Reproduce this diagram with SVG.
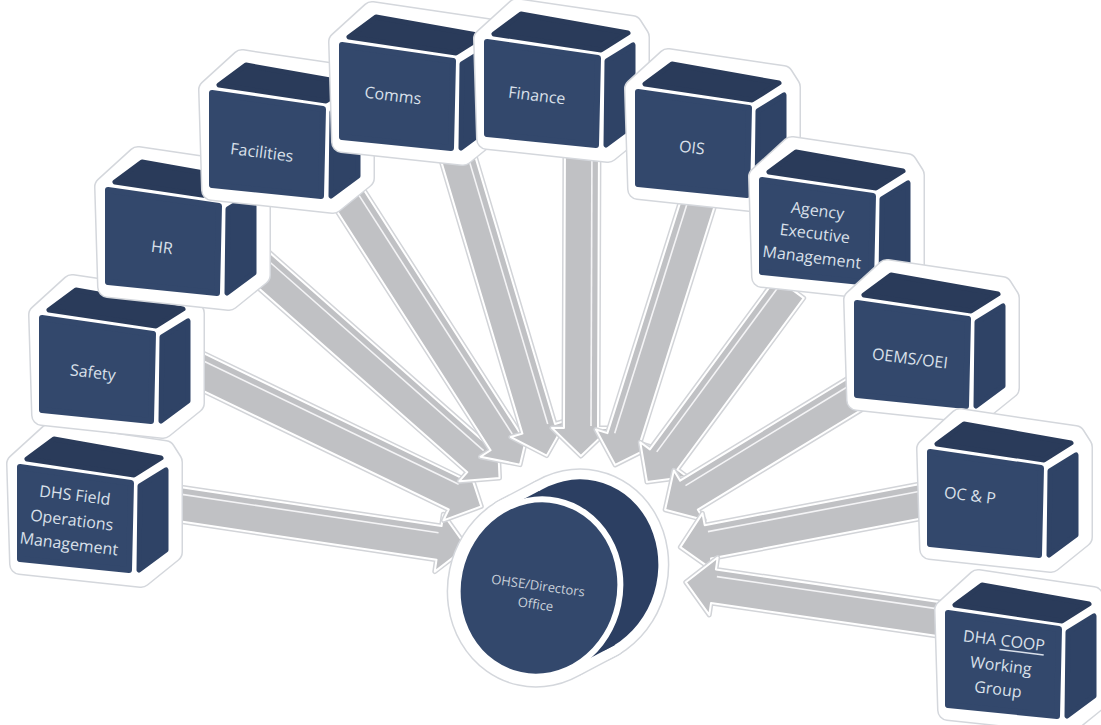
<svg xmlns="http://www.w3.org/2000/svg" xmlns:xlink="http://www.w3.org/1999/xlink" width="1101" height="725" viewBox="0 0 1101 725">
<style>
.sil1{fill:#d4d7dc;stroke:#d4d7dc;stroke-width:22;stroke-linejoin:round}
.sil2{fill:#ffffff;stroke:#ffffff;stroke-width:19;stroke-linejoin:round}
.front{fill:#33486c;stroke:#33486c;stroke-width:6;stroke-linejoin:round}
.top{fill:#2a3b5a;stroke:#2a3b5a;stroke-width:5;stroke-linejoin:round}
.side{fill:#2f4366;stroke:#2f4366;stroke-width:5;stroke-linejoin:round}
.lbl{font-family:"Open Sans","Noto Sans",sans-serif;font-size:16px;fill:#dae0ea;text-anchor:middle;dominant-baseline:central}
.arO{fill:#d2d4d8;stroke:#d2d4d8;stroke-width:5;stroke-linejoin:round}
.arI{fill:#c0c1c4;stroke:#ffffff;stroke-width:2;stroke-linejoin:round}
.hl{fill:none;stroke:#f4f4f6;stroke-width:1.6}
</style>
<defs>
<g id="cube">
<path class="sil1" d="M-3,-3 L30,-33 L145,-16 L152,-5 L152,85 L121,110 L0,97 Z"/>
<path class="sil2" d="M-3,-3 L30,-33 L145,-16 L152,-5 L152,85 L121,110 L0,97 Z"/>
<path class="top" d="M7,-8 L114,8 L141,-9 L34,-28 Z"/>
<path class="side" d="M120,19 L146,3 L146,83 L119,103 Z"/>
<path class="front" d="M0,0 L111,16 L109,103 L0,92 Z"/>
</g>
</defs>
<rect width="1101" height="725" fill="#ffffff"/>
<g id="connectors">
<g transform="translate(172,503) rotate(8.5)"><path class="arO" d="M0,-17 H270 V-29 L298,0 L270,29 V17 H0 Z"/><path class="arI" d="M0,-17 H270 V-29 L298,0 L270,29 V17 H0 Z"/><path class="hl" d="M0,-10 H268"/></g>
<g transform="translate(195,368) rotate(25.8)"><path class="arO" d="M0,-17 H290 V-29 L318,0 L290,29 V17 H0 Z"/><path class="arI" d="M0,-17 H290 V-29 L318,0 L290,29 V17 H0 Z"/><path class="hl" d="M0,-10 H288"/></g>
<g transform="translate(258,265) rotate(41.4)"><path class="arO" d="M0,-17 H294 V-29 L322,0 L294,29 V17 H0 Z"/><path class="arI" d="M0,-17 H294 V-29 L322,0 L294,29 V17 H0 Z"/><path class="hl" d="M0,-10 H292"/></g>
<g transform="translate(345,192) rotate(57.3)"><path class="arO" d="M0,-17 H296 V-29 L324,0 L296,29 V17 H0 Z"/><path class="arI" d="M0,-17 H296 V-29 L324,0 L296,29 V17 H0 Z"/><path class="hl" d="M0,-10 H294"/></g>
<g transform="translate(455,148) rotate(73.4)"><path class="arO" d="M0,-17 H293 V-29 L321,0 L293,29 V17 H0 Z"/><path class="arI" d="M0,-17 H293 V-29 L321,0 L293,29 V17 H0 Z"/><path class="hl" d="M0,-10 H291"/></g>
<g transform="translate(582,138) rotate(90.2)"><path class="arO" d="M0,-17 H290 V-29 L318,0 L290,29 V17 H0 Z"/><path class="arI" d="M0,-17 H290 V-29 L318,0 L290,29 V17 H0 Z"/><path class="hl" d="M0,-10 H288"/></g>
<g transform="translate(700,196) rotate(107.5)"><path class="arO" d="M0,-17 H254 V-29 L282,0 L254,29 V17 H0 Z"/><path class="arI" d="M0,-17 H254 V-29 L282,0 L254,29 V17 H0 Z"/><path class="hl" d="M0,10 H252"/></g>
<g transform="translate(790,288) rotate(126.4)"><path class="arO" d="M0,-17 H213 V-29 L241,0 L213,29 V17 H0 Z"/><path class="arI" d="M0,-17 H213 V-29 L241,0 L213,29 V17 H0 Z"/><path class="hl" d="M0,10 H211"/></g>
<g transform="translate(858,392) rotate(148.6)"><path class="arO" d="M0,-17 H198 V-29 L226,0 L198,29 V17 H0 Z"/><path class="arI" d="M0,-17 H198 V-29 L226,0 L198,29 V17 H0 Z"/><path class="hl" d="M0,10 H196"/></g>
<g transform="translate(922,501) rotate(169.2)"><path class="arO" d="M0,-17 H218 V-29 L246,0 L218,29 V17 H0 Z"/><path class="arI" d="M0,-17 H218 V-29 L246,0 L218,29 V17 H0 Z"/><path class="hl" d="M0,10 H216"/></g>
<g transform="translate(945,620) rotate(188.3)"><path class="arO" d="M0,-17 H234 V-29 L262,0 L234,29 V17 H0 Z"/><path class="arI" d="M0,-17 H234 V-29 L262,0 L234,29 V17 H0 Z"/><path class="hl" d="M0,10 H232"/></g>
</g>
<g id="node-dhs-field" transform="translate(20,467)"><use href="#cube"/><g transform="rotate(7 55 52)"><text class="lbl" x="52" y="28">DHS  Field</text><text class="lbl" x="52" y="53">Operations</text><text class="lbl" x="52" y="77">Management</text></g></g>
<g id="node-safety" transform="translate(42,318)"><use href="#cube"/><text class="lbl" x="51" y="54" transform="rotate(7 51 54)">Safety</text></g>
<g id="node-hr" transform="translate(108,190)"><use href="#cube"/><text class="lbl" x="54" y="57" transform="rotate(7 54 57)">HR</text></g>
<g id="node-facilities" transform="translate(212,93)"><use href="#cube"/><text class="lbl" x="50" y="59" transform="rotate(7 50 59)">Facilities</text></g>
<g id="node-comms" transform="translate(342,45)"><use href="#cube"/><text class="lbl" x="51" y="50" transform="rotate(7 51 50)">Comms</text></g>
<g id="node-finance" transform="translate(487,42)"><use href="#cube"/><text class="lbl" x="50" y="53" transform="rotate(7 50 53)">Finance</text></g>
<g id="node-ois" transform="translate(638,92)"><use href="#cube"/><text class="lbl" x="54" y="55" transform="rotate(7 54 55)">OIS</text></g>
<g id="node-agency" transform="translate(762,180)"><use href="#cube"/><g transform="rotate(7 53 52)"><text class="lbl" x="53" y="30">Agency</text><text class="lbl" x="53" y="53">Executive</text><text class="lbl" x="53" y="77">Management</text></g></g>
<g id="node-oems" transform="translate(857,303)"><use href="#cube"/><text class="lbl" x="53" y="55" transform="rotate(7 53 55)">OEMS/OEI</text></g>
<g id="node-ocp" transform="translate(930,452)"><use href="#cube"/><text class="lbl" x="40" y="43" transform="rotate(7 40 43)">OC &amp; P</text></g>
<g id="node-dha-coop" transform="translate(948,613)"><use href="#cube"/><g transform="rotate(7 53 52)"><text class="lbl" x="53" y="27">DHA <tspan text-decoration="underline">COOP</tspan></text><text class="lbl" x="53" y="52">Working</text><text class="lbl" x="53" y="76">Group</text></g></g>
<g id="node-ohse">
<g>
<ellipse cx="577" cy="568" rx="81" ry="89" transform="rotate(12 577 568)" fill="#d4d7dc" stroke="#d4d7dc" stroke-width="22"/>
<ellipse cx="539" cy="588" rx="81" ry="89" transform="rotate(12 539 588)" fill="#d4d7dc" stroke="#d4d7dc" stroke-width="22"/>
<polygon points="501,511 539,491 615,645 577,665" fill="#d4d7dc" stroke="#d4d7dc" stroke-width="22" stroke-linejoin="round"/>
<ellipse cx="577" cy="568" rx="81" ry="89" transform="rotate(12 577 568)" fill="#fff" stroke="#fff" stroke-width="19"/>
<ellipse cx="539" cy="588" rx="81" ry="89" transform="rotate(12 539 588)" fill="#fff" stroke="#fff" stroke-width="19"/>
<polygon points="501,511 539,491 615,645 577,665" fill="#fff" stroke="#fff" stroke-width="19" stroke-linejoin="round"/>
</g>
<ellipse cx="577" cy="568" rx="81" ry="89" transform="rotate(12 577 568)" fill="#2c3f62"/>
<polygon points="501,511 539,491 615,645 577,665" fill="#2c3f62"/>
<ellipse cx="539" cy="588" rx="81" ry="89" transform="rotate(12 539 588)" fill="#33486c" stroke="#ffffff" stroke-width="6"/>
<g transform="rotate(8 537 594)"><text class="lbl" x="537" y="585" style="font-size:13px;fill:#c9d0da">OHSE/Directors</text><text class="lbl" x="537" y="604" style="font-size:13px;fill:#c9d0da">Office</text></g>
</g>
</svg>
